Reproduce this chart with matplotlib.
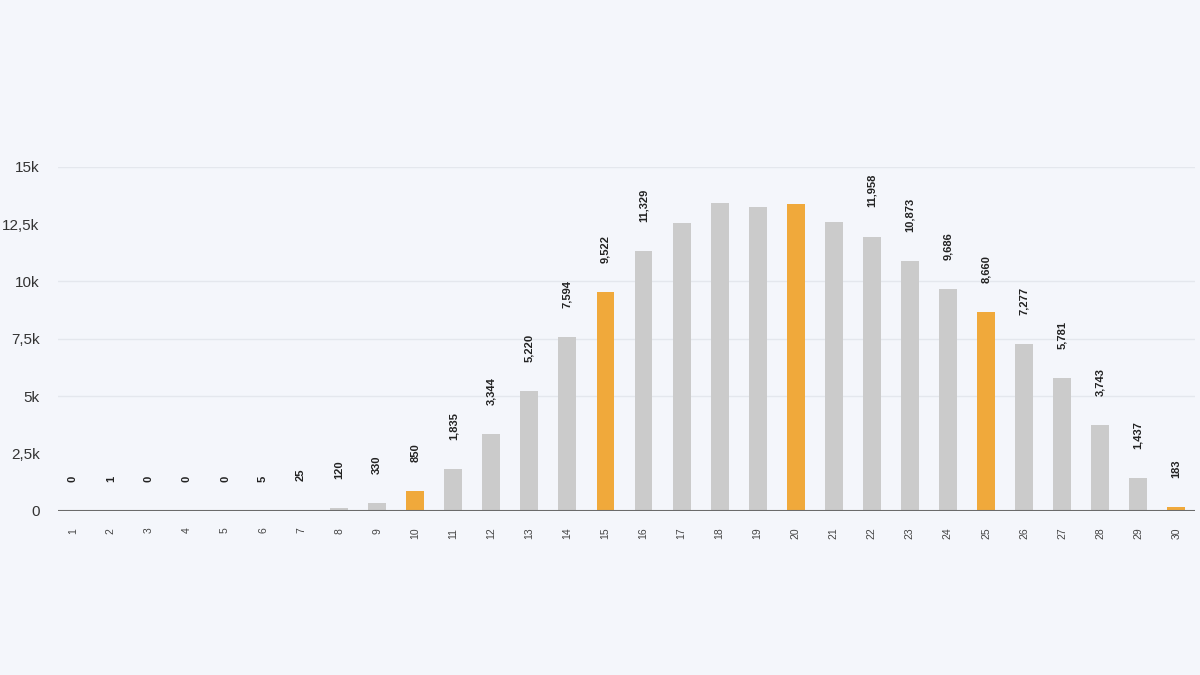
import matplotlib
matplotlib.use("Agg")
import matplotlib.pyplot as plt

plt.rcParams["font.family"] = ["Liberation Sans", "DejaVu Sans"]

categories = list(range(1, 31))
values = [0, 1, 0, 0, 0, 5, 25, 120, 330, 850, 1835, 3344, 5220, 7594, 9522,
          11329, 12560, 13430, 13260, 13390, 12600, 11958, 10873, 9686, 8660,
          7277, 5781, 3743, 1437, 183]
highlight = [10, 15, 20, 25, 30]
hidden_labels = [17, 18, 19, 20, 21]
yticks = [0, 2500, 5000, 7500, 10000, 12500, 15000]
ytick_labels = ["0", "2,5k", "5k", "7,5k", "10k", "12,5k", "15k"]
grid_levels = [5000, 7500, 10000, 15000]

bg = "#f4f6fb"
fig = plt.figure(figsize=(12, 6.75), dpi=100, facecolor=bg)
ax = fig.add_axes([0.048, 0.243, 0.948, 0.510])
ax.set_facecolor(bg)

colors = ["#f0a93b" if c in highlight else "#cbcbcb" for c in categories]
ax.bar(categories, values, width=0.47, color=colors, zorder=3)

for c, v in zip(categories, values):
    if c in hidden_labels:
        continue
    ax.annotate(f"{v:,}", (c, v), xytext=(0, 21), textcoords="offset points",
                rotation=90, ha="center", va="bottom", fontsize=8,
                fontweight="bold", color="#222222", zorder=4)

ax.set_xlim(0.6, 30.5)
ax.set_ylim(0, 15000)
ax.set_yticks(yticks)
ax.set_yticklabels(ytick_labels)
ax.set_xticks(categories)
ax.set_xticklabels([str(c) for c in categories], rotation=90, fontsize=7.5, color="#444444")
ax.tick_params(axis="y", length=0, labelsize=11, labelcolor="#333333", pad=13)
ax.tick_params(axis="x", length=0, pad=12)

for y in grid_levels:
    ax.axhline(y, color="#e4e7ed", linewidth=1, zorder=1)
ax.axhline(0, color="#6b6b6b", linewidth=1.5, zorder=5)

for s in ax.spines.values():
    s.set_visible(False)

fig.savefig("out.png", dpi=100, facecolor=bg)
